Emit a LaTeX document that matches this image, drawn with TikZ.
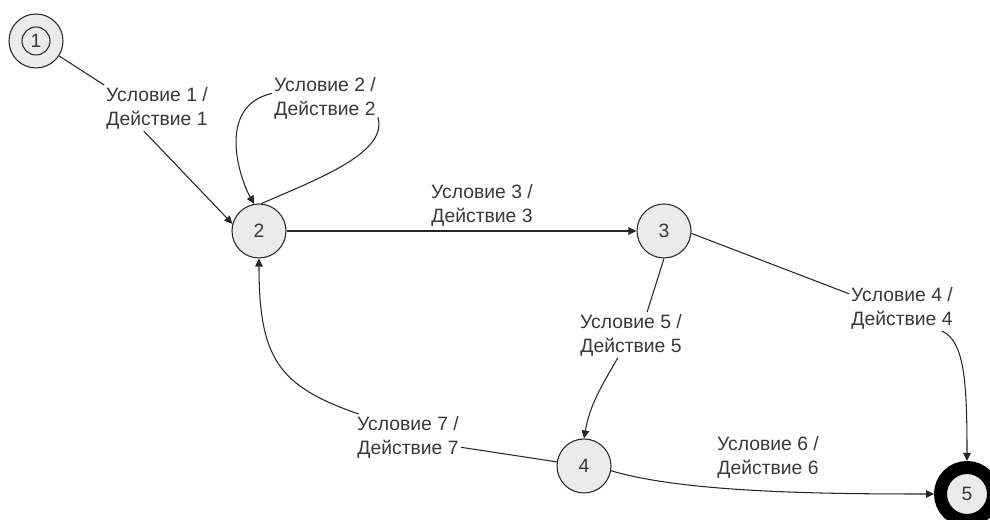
\documentclass[tikz,border=0pt]{standalone}
\usepackage{fontspec}
\setmainfont{Liberation Sans}
\usetikzlibrary{arrows.meta}

\definecolor{linec}{HTML}{262626}
\definecolor{textc}{HTML}{383838}
\definecolor{statefill}{HTML}{EBEBEB}

\begin{document}
\begin{tikzpicture}[
  font=\fontsize{11}{13.6}\selectfont,
  state/.style={draw=linec, circle, fill=statefill, minimum size=1.08cm, inner sep=0pt, text=textc, line width=0.6pt},
  final/.style={state, draw=black, line width=0.26cm, minimum size=1.06cm},
  lbl/.style={align=center, inner sep=1pt, text=textc},
  edge/.style={draw=linec, line width=0.6pt},
  arr/.style={edge, -{Triangle[length=1.6mm, width=1.5mm]}},
]
\useasboundingbox (0,0) rectangle (19.8,10.4);

% ---- states
\node[state] (n1) at (0.72,9.58) {};
\node[state, minimum size=0.56cm] (n1in) at (n1) {1};
\node[state] (n2) at (5.18,5.78) {2};
\node[state] (n3) at (13.28,5.78) {3};
\node[state] (n4) at (11.68,1.08) {4};
\node[final] (n5) at (19.34,0.52) {5};

% ---- transition labels
\node[lbl] (l1) at (3.14,8.24) {Условие 1 /\\Действие 1};
\node[lbl] (l2) at (6.50,8.44) {Условие 2 /\\Действие 2};
\node[lbl] (l3) at (9.64,6.30) {Условие 3 /\\Действие 3};
\node[lbl] (l4) at (18.04,4.24) {Условие 4 /\\Действие 4};
\node[lbl] (l5) at (12.62,3.70) {Условие 5 /\\Действие 5};
\node[lbl] (l6) at (15.36,1.26) {Условие 6 /\\Действие 6};
\node[lbl] (l7) at (8.16,1.66) {Условие 7 /\\Действие 7};

% ---- transitions
\draw[edge] (n1) -- (l1.north west);
\draw[arr] (l1.240) -- (n2.165);
\draw[arr] (l2.175) .. controls +(-1.14,-0.26) and +(-0.28,0.48) .. (n2.100);
\draw[edge] (n2.85) .. controls +(1.2,0.52) and +(0.2,-0.7) .. (l2.-20);
\draw[arr] (n2) -- (n3);
\draw[edge] (n3.-5) -- (l4.165);
\draw[arr] (l4.-30) .. controls +(0.45,-0.2) and +(0,1.6) .. (n5.north);
\draw[edge] (n3.south) -- (l5.55);
\draw[arr] (l5.240) to[out=-120, in=80] (n4.north);
\draw[arr] (n4.-10) .. controls +(1.5,-0.45) and +(-2,0) .. (n5.west);
\draw[edge] (n4) -- (l7.-11);
\draw[arr] (l7.155) .. controls +(-1.6,0.55) and +(0,-2.0) .. (n2.south);
\end{tikzpicture}
\end{document}
